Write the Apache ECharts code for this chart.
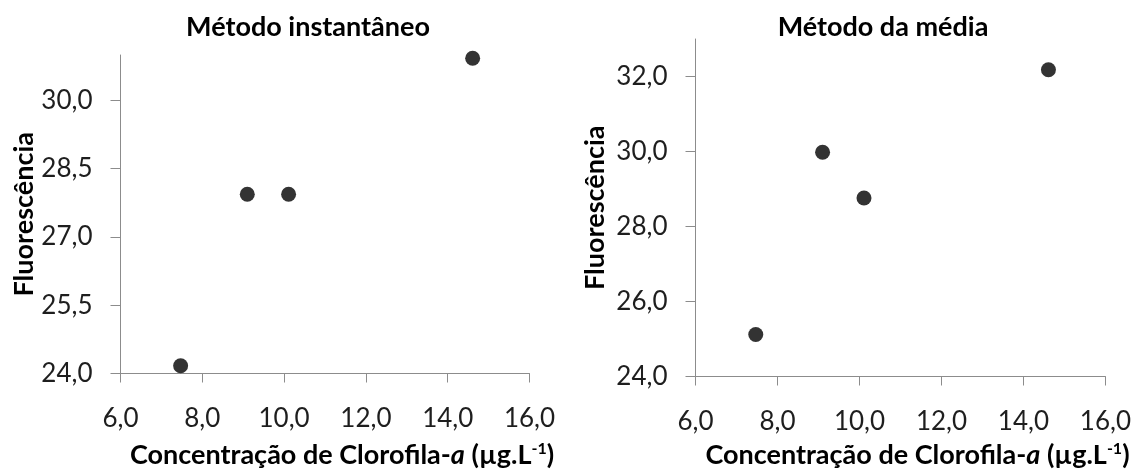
<!DOCTYPE html>
<html>
<head>
<meta charset="utf-8">
<script src="https://cdn.jsdelivr.net/npm/echarts@6/dist/echarts.min.js"></script>
<style>
  html, body { margin: 0; padding: 0; background: #ffffff; }
  #chart { width: 1134px; height: 474px; }
</style>
</head>
<body>
<div id="chart"></div>
<script>
// Chlorophyll-a concentration (µg/L) for the four samples
const concentration = [7.47, 9.10, 10.11, 14.61];
// Fluorescence readings, instantaneous method
const fluorInstant = [24.17, 27.94, 27.94, 30.93];
// Fluorescence readings, mean method
const fluorMean = [25.12, 29.98, 28.76, 32.18];

const xTicks = [6, 8, 10, 12, 14, 16];
const yTicksInstant = [24, 25.5, 27, 28.5, 30];
const yTicksMean = [24, 26, 28, 30, 32];

const panelTitles = ['Método instantâneo', 'Método da média'];
const yName = 'Fluorescência';

const FONT = 'Lato, "Open Sans", sans-serif';
const AXIS_GREY = '#8c8c8c';
const LABEL_COLOR = '#1e1e1e';

const fmt = v => v.toFixed(1).replace('.', ',');

const xName = '{b|Concentração de Clorofila-}{i|a}{b| (µg.L}{s|-1}{b|)}';
const xNameRich = {
  b: { fontFamily: FONT, fontWeight: 'bold', fontSize: 27, color: '#000', lineHeight: 30 },
  i: { fontFamily: FONT, fontWeight: 'bold', fontStyle: 'italic', fontSize: 27, color: '#000', lineHeight: 30 },
  s: { fontFamily: FONT, fontWeight: 'bold', fontSize: 16, color: '#000', verticalAlign: 'top', lineHeight: 30 }
};

function pairs(ys) {
  return concentration.map((x, i) => [x, ys[i]]);
}

function xAxisOf(gridIndex, gap) {
  return {
    type: 'value', gridIndex,
    min: 6, max: 16, interval: 2,
    axisLine: { show: true, lineStyle: { color: AXIS_GREY, width: 1 } },
    axisTick: { show: true, length: 9, inside: false, customValues: xTicks, lineStyle: { color: AXIS_GREY } },
    axisLabel: { customValues: xTicks, formatter: fmt, margin: 32, fontFamily: FONT, fontSize: 26, color: LABEL_COLOR },
    splitLine: { show: false },
    name: xName, nameLocation: 'middle', nameGap: gap,
    nameTextStyle: { rich: xNameRich, padding: [0, 0, 0, 34] }
  };
}

function yAxisOf(gridIndex, max, ticks, gap) {
  return {
    type: 'value', gridIndex,
    min: 24, max: max,
    axisLine: { show: true, lineStyle: { color: AXIS_GREY, width: 1 } },
    axisTick: { show: true, length: 10, inside: false, customValues: ticks, lineStyle: { color: AXIS_GREY } },
    axisLabel: { customValues: ticks, formatter: fmt, margin: 28, fontFamily: FONT, fontSize: 26, color: LABEL_COLOR },
    splitLine: { show: false },
    name: yName, nameLocation: 'middle', nameRotate: 90, nameGap: gap,
    nameTextStyle: { fontFamily: FONT, fontWeight: 'bold', fontSize: 27, color: '#000' }
  };
}

const chart = echarts.init(document.getElementById('chart'), null, { renderer: 'canvas' });

chart.setOption({
  animation: false,
  backgroundColor: '#ffffff',
  graphic: [
    { type: 'text', x: 308, y: 14, style: { text: panelTitles[0], align: 'center', fontFamily: FONT, fontWeight: 'bold', fontSize: 27, fill: '#000' } },
    { type: 'text', x: 883, y: 14, style: { text: panelTitles[1], align: 'center', fontFamily: FONT, fontWeight: 'bold', fontSize: 27, fill: '#000' } }
  ],
  grid: [
    { left: 120.5, top: 55, width: 409, height: 327.3 },
    { left: 695.5, top: 39, width: 410, height: 346.7 }
  ],
  xAxis: [xAxisOf(0, 67), xAxisOf(1, 64)],
  yAxis: [yAxisOf(0, 31, yTicksInstant, 81), yAxisOf(1, 33, yTicksMean, 87)],
  series: [
    {
      type: 'scatter', xAxisIndex: 0, yAxisIndex: 0,
      data: pairs(fluorInstant), symbol: 'circle', symbolSize: 15,
      itemStyle: { color: '#000' }
    },
    {
      type: 'scatter', xAxisIndex: 1, yAxisIndex: 1,
      data: pairs(fluorMean), symbol: 'circle', symbolSize: 15,
      itemStyle: { color: '#000' }
    }
  ]
});
</script>
</body>
</html>
